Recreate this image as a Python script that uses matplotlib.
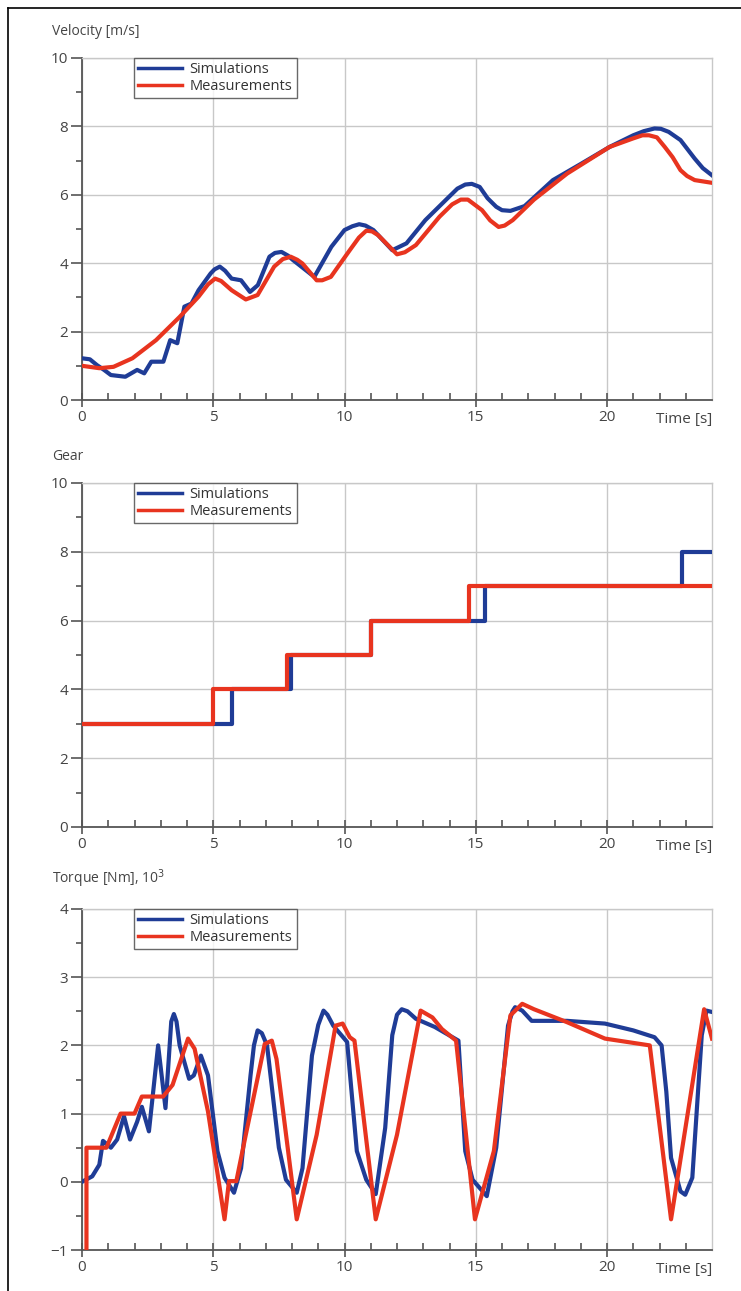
import numpy as np
import matplotlib
matplotlib.use('Agg')
import matplotlib.pyplot as plt
from matplotlib.lines import Line2D

BLUE = '#1f3c96'
RED = '#e8341f'

# Velocity [m/s]
vel_sim_t = [0, 0.3, 0.57, 0.84, 1.1, 1.65, 2.1, 2.37, 2.64, 3.1, 3.36, 3.63, 3.9, 4.17,
             4.44, 4.9, 5.05, 5.25, 5.45, 5.7, 6.06, 6.4, 6.7, 7.14, 7.35, 7.6, 7.85, 8.04,
             8.85, 9.5, 10.0, 10.3, 10.56, 10.8, 11.1, 11.82, 12.36, 13.08, 13.98, 14.3,
             14.6, 14.85, 15.15, 15.45, 15.78, 16.0, 16.32, 16.86, 17.94, 19.02, 20.1, 21.0,
             21.4, 21.81, 22.05, 22.35, 22.8, 23.05, 23.34, 23.65, 24.0]
vel_sim_v = [1.22, 1.19, 1.02, 0.88, 0.73, 0.68, 0.88, 0.78, 1.12, 1.12, 1.75, 1.66, 2.73, 2.82,
             3.21, 3.7, 3.82, 3.9, 3.78, 3.55, 3.5, 3.16, 3.36, 4.19, 4.3, 4.33, 4.22, 4.09,
             3.6, 4.48, 4.97, 5.08, 5.14, 5.1, 4.97, 4.38, 4.58, 5.26, 5.94, 6.18,
             6.3, 6.32, 6.23, 5.9, 5.65, 5.55, 5.53, 5.67, 6.43, 6.91, 7.4, 7.74,
             7.86, 7.94, 7.93, 7.84, 7.6, 7.35, 7.06, 6.78, 6.57]
vel_meas_t = [0, 0.66, 1.2, 1.92, 2.82, 3.72, 4.44, 4.8, 5.07, 5.3, 5.7, 6.24, 6.69, 7.32,
              7.65, 7.95, 8.2, 8.4, 8.94, 9.15, 9.48, 10.2, 10.55, 10.83, 11.05, 11.28, 12.0,
              12.3, 12.72, 13.62, 14.1, 14.43, 14.7, 15.24, 15.55, 15.87, 16.1, 16.41, 17.22,
              18.48, 20.1, 21.0, 21.35, 21.6, 21.9, 22.2, 22.5, 22.8, 23.05, 23.34, 24.0]
vel_meas_v = [1.0, 0.93, 0.97, 1.22, 1.75, 2.43, 3.02, 3.38, 3.55, 3.48, 3.21, 2.94, 3.07, 3.9,
              4.12, 4.19, 4.1, 3.99, 3.5, 3.5, 3.6, 4.38, 4.75, 4.95, 4.93, 4.82, 4.26,
              4.32, 4.53, 5.36, 5.72, 5.86, 5.86, 5.55, 5.25, 5.06, 5.1, 5.26, 5.86,
              6.62, 7.4, 7.65, 7.74, 7.74, 7.68, 7.4, 7.1, 6.72, 6.55, 6.43, 6.35]

# Gear (step changes)
gear_sim_t = [0, 5.7, 7.95, 11.0, 15.35, 22.85, 24.0]
gear_sim_g = [3, 4, 5, 6, 7, 8, 8]
gear_meas_t = [0, 4.98, 7.8, 11.0, 14.75, 24.0]
gear_meas_g = [3, 4, 5, 6, 7, 7]

# Torque [Nm], 10^3
tq_sim_t = [0, 0.39, 0.66, 0.8, 1.1, 1.34, 1.6, 1.83, 2.1, 2.28, 2.55, 2.9, 3.18, 3.4, 3.5,
            3.6, 3.72, 4.08, 4.26, 4.53, 4.8, 5.16, 5.43, 5.79, 6.06, 6.42, 6.55, 6.69, 6.85,
            7.05, 7.5, 7.77, 8.18, 8.4, 8.76, 9.0, 9.2, 9.35, 9.57, 10.1, 10.47, 10.83, 11.19,
            11.55, 11.82, 12.0, 12.18, 12.4, 12.72, 13.44, 13.98, 14.34, 14.6, 14.88, 15.42,
            15.78, 16.23, 16.4, 16.5, 16.77, 17.13, 18.48, 19.92, 21.0, 21.81, 22.08, 22.26,
            22.44, 22.8, 22.98, 23.25, 23.61, 23.79, 24.0]
tq_sim_v = [0, 0.08, 0.25, 0.6, 0.5, 0.62, 0.96, 0.62, 0.88, 1.1, 0.74, 2.0, 1.08, 2.35, 2.46,
            2.35, 2.0, 1.51, 1.56, 1.85, 1.56, 0.45, 0.06, -0.16, 0.2, 1.56, 2.0, 2.22, 2.18,
            2.0, 0.5, 0.03, -0.16, 0.2, 1.85, 2.3, 2.51, 2.45, 2.29, 2.05, 0.45, 0.03, -0.18,
            0.79, 2.15, 2.45, 2.53, 2.5, 2.39, 2.27, 2.15, 2.07, 0.45, 0.03, -0.21,
            0.5, 2.29, 2.5, 2.56, 2.51, 2.36, 2.36, 2.32, 2.22, 2.12, 2.0, 1.32,
            0.35, -0.14, -0.19, 0.06, 2.15, 2.51, 2.49]
tq_meas_t = [0.17, 0.17, 0.93, 1.47, 2.0, 2.28, 3.09, 3.45, 4.04, 4.29, 4.8, 5.43, 5.6, 5.88,
             6.24, 6.96, 7.23, 7.41, 8.18, 8.94, 9.66, 9.93, 10.2, 10.38, 11.19, 12.0, 12.9,
             13.35, 13.71, 14.25, 14.97, 15.69, 16.32, 16.77, 17.22, 18.48, 19.92, 21.63,
             22.44, 23.7, 24.0]
tq_meas_v = [-1.0, 0.5, 0.5, 1.0, 1.0, 1.25, 1.25, 1.42, 2.1, 1.95, 1.03, -0.55, 0.01, 0.01,
             0.69, 2.02, 2.07, 1.8, -0.55, 0.69, 2.29, 2.32, 2.12, 2.07, -0.55, 0.69, 2.51,
             2.41, 2.24, 2.07, -0.55, 0.45, 2.44, 2.61, 2.53, 2.34, 2.1, 2.0,
             -0.55, 2.53, 2.1]

x_ticks = [0, 5, 10, 15, 20]
x_ticklabels = ['0', '5', '10', '15', '20']

plt.rcParams.update({
    'font.family': 'Open Sans',
    'font.size': 10,
})

fig = plt.figure(figsize=(7.41, 12.91), dpi=100)

# frame lines (top and left) like in the source document
fig.add_artist(Line2D([8 / 741, 8 / 741], [0, 1 - 8 / 1291], color='black', lw=1.2))
fig.add_artist(Line2D([8 / 741, 1], [1 - 8 / 1291, 1 - 8 / 1291], color='black', lw=1.2))

left, width = 82 / 741, 630 / 741
panels = [
    (1 - 400 / 1291, 342 / 1291, 'Velocity [m/s]', (0, 10), np.arange(0, 11, 2), np.arange(1, 10, 2)),
    (1 - 827 / 1291, 344 / 1291, 'Gear', (0, 10), np.arange(0, 11, 2), np.arange(1, 10, 2)),
    (1 - 1250 / 1291, 341 / 1291, 'Torque [Nm], 10$^3$', (-1, 4), np.arange(-1, 5, 1), np.arange(-0.5, 4, 1)),
]

axes = []
for bottom, height, label, ylim, yt, ymt in panels:
    ax = fig.add_axes([left, bottom, width, height])
    ax.set_xlim(0, 24)
    ax.set_ylim(*ylim)
    ax.set_xticks(x_ticks)
    ax.set_xticklabels(x_ticklabels)
    ax.set_xticks(np.arange(1, 24), minor=True)
    ax.set_yticks(yt)
    ax.set_yticklabels(['\u22121' if v == -1 else str(int(v)) for v in yt])
    ax.set_yticks(ymt, minor=True)
    ax.grid(True, which='major', color='#c8c8c8', lw=1.0)
    for s in ['top', 'right']:
        ax.spines[s].set_color('#c8c8c8')
        ax.spines[s].set_linewidth(1.0)
    for s in ['left', 'bottom']:
        ax.spines[s].set_color('#555555')
        ax.spines[s].set_linewidth(1.3)
    ax.tick_params(axis='x', which='major', direction='inout', length=10, width=1.2,
                   color='#555555', labelsize=11, labelcolor='#444444', pad=2)
    ax.tick_params(axis='x', which='minor', direction='in', length=5, width=1.2, color='#555555')
    ax.tick_params(axis='y', which='major', direction='out', length=8, width=1.2,
                   color='#555555', labelsize=11, labelcolor='#444444', pad=2)
    ax.tick_params(axis='y', which='minor', direction='out', length=4, width=1.2, color='#555555')
    ax.text(-0.047, 1.055, label, transform=ax.transAxes, fontsize=10, color='#444444',
            ha='left', va='bottom')
    ax.text(1.0, -0.035, 'Time [s]', transform=ax.transAxes, fontsize=11, color='#444444',
            ha='right', va='top')
    axes.append(ax)

ax1, ax2, ax3 = axes
lw = 3.0
ax1.plot(vel_sim_t, vel_sim_v, color=BLUE, lw=lw, label='Simulations', solid_joinstyle='round', zorder=3)
ax1.plot(vel_meas_t, vel_meas_v, color=RED, lw=lw, label='Measurements', solid_joinstyle='round', zorder=3)

ax2.plot(gear_sim_t, gear_sim_g, color=BLUE, lw=lw, drawstyle='steps-post', label='Simulations', zorder=3)
ax2.plot(gear_meas_t, gear_meas_g, color=RED, lw=lw, drawstyle='steps-post', label='Measurements', zorder=3)

ax3.plot(tq_sim_t, tq_sim_v, color=BLUE, lw=lw, label='Simulations', solid_joinstyle='round', zorder=3)
ax3.plot(tq_meas_t, tq_meas_v, color=RED, lw=lw, label='Measurements', solid_joinstyle='round', zorder=3)

for ax in axes:
    leg = ax.legend(loc='upper left', bbox_to_anchor=(52 / 630, 1.0), fontsize=10.5,
                    frameon=True, fancybox=False, borderpad=0.3, handlelength=3.0,
                    handletextpad=0.5, labelspacing=0.1, borderaxespad=0)
    leg.get_frame().set_edgecolor('#444444')
    leg.get_frame().set_linewidth(1.0)
    for line in leg.get_lines():
        line.set_linewidth(2.5)
    for t in leg.get_texts():
        t.set_color('#333333')

plt.savefig('out.png', dpi=100)
plt.close()
